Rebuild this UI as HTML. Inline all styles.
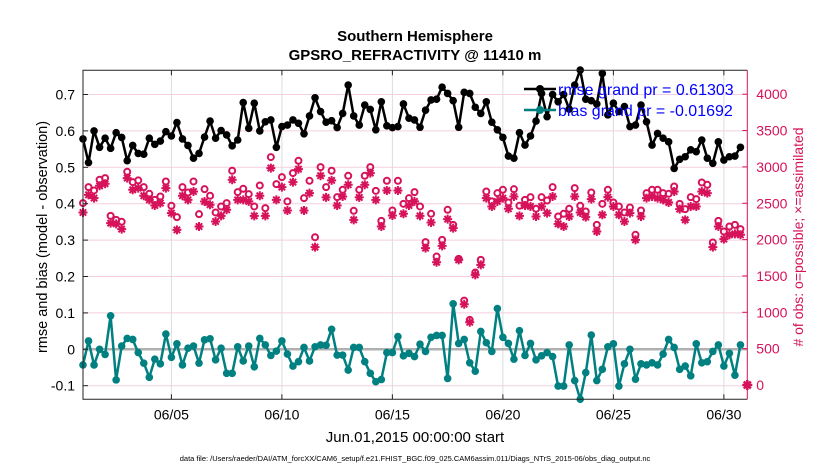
<!DOCTYPE html>
<html><head><meta charset="utf-8"><style>
body{margin:0;background:#fff;}
svg{display:block;font-family:"Liberation Sans",sans-serif;}
</style></head><body>
<svg id="chart" width="830" height="470" viewBox="0 0 830 470" xmlns="http://www.w3.org/2000/svg">
<rect x="0" y="0" width="830" height="470" fill="#fff"/>
<text x="415" y="41" text-anchor="middle" font-size="15" font-weight="bold">Southern Hemisphere</text>
<text x="415" y="60" text-anchor="middle" font-size="15" font-weight="bold">GPSRO_REFRACTIVITY @ 11410 m</text>
<g id="grid"></g>
<g id="marks"></g>
<g id="axes"></g>
<text transform="translate(47,237) rotate(-90)" text-anchor="middle" font-size="14.5">rmse and bias (model - observation)</text>
<text transform="translate(803,237) rotate(-90)" text-anchor="middle" font-size="14" fill="#d6125a"># of obs: o=possible; ×=assimilated</text>
<text x="415" y="442" text-anchor="middle" font-size="15">Jun.01,2015 00:00:00 start</text>
<text x="415" y="461" text-anchor="middle" font-size="7.5">data file: /Users/raeder/DAI/ATM_forcXX/CAM6_setup/f.e21.FHIST_BGC.f09_025.CAM6assim.011/Diags_NTrS_2015-06/obs_diag_output.nc</text>
<g id="legend"></g>
</svg>
<script>
const rmse=[0.578,0.513,0.600,0.555,0.580,0.552,0.595,0.582,0.518,0.560,0.538,0.536,0.580,0.563,0.572,0.598,0.586,0.623,0.578,0.560,0.525,0.538,0.583,0.627,0.580,0.601,0.589,0.559,0.575,0.678,
0.607,0.676,0.600,0.625,0.630,0.555,0.612,0.616,0.630,0.621,0.592,0.641,0.691,0.653,0.624,0.628,0.609,0.648,0.726,0.641,0.616,0.671,0.659,0.603,0.680,0.614,0.609,0.612,0.674,0.635,
0.630,0.610,0.657,0.685,0.687,0.720,0.703,0.683,0.610,0.706,0.703,0.665,0.648,0.680,0.624,0.603,0.582,0.531,0.525,0.595,0.561,0.586,0.627,0.703,0.639,0.700,0.680,0.700,0.660,0.726,
0.767,0.687,0.683,0.674,0.758,0.644,0.676,0.653,0.667,0.612,0.616,0.671,0.625,0.561,0.593,0.580,0.570,0.497,0.522,0.529,0.548,0.543,0.575,0.525,0.511,0.570,0.520,0.529,0.531,0.555];
const bias=[-0.043,0.023,-0.043,0,-0.014,0.092,-0.084,0.009,0.030,0.027,-0.009,-0.038,-0.077,-0.027,-0.040,0.042,-0.022,0.015,-0.043,0.003,0.009,-0.038,0.026,0.029,-0.029,0.003,-0.066,-0.066,0.007,-0.032,
0.009,-0.048,0.030,0.012,-0.017,-0.005,0.023,-0.013,-0.046,-0.034,0.005,-0.032,0.007,0.012,0.011,0.055,-0.016,-0.016,-0.057,0.005,0.005,-0.034,-0.066,-0.089,-0.083,-0.009,-0.009,0.035,-0.018,-0.011,
-0.020,0.014,-0.006,0.033,0.038,0.038,-0.080,0.125,0.016,0.027,-0.037,-0.060,0.049,0.018,-0.006,0.112,0.033,0.016,-0.027,0.051,-0.017,0.016,-0.029,-0.018,-0.009,-0.020,-0.101,-0.101,0.012,-0.086,
-0.137,-0.064,0.039,-0.086,-0.055,0.007,0.015,-0.101,-0.040,0,-0.082,-0.040,-0.043,-0.037,-0.043,-0.013,0.027,0.005,-0.055,-0.046,-0.073,0.015,-0.037,-0.034,-0.006,0.012,-0.046,-0.011,-0.071,0.012];
const possible=[2502,2722,2676,2823,2846,2327,2272,2245,2933,2791,2814,2722,2630,2547,2593,2800,2465,2309,2722,2648,2800,2350,2694,2603,2373,2456,2502,2947,2653,2699,
2625,2456,2745,2433,3135,2763,2860,2525,2915,3084,2570,2809,2033,2997,2722,2947,2584,2685,2878,2396,2685,2878,2997,2671,2258,2809,2401,2809,2492,2570,
2653,2456,1966,2355,1767,1997,2410,2203,1735,1161,895,1547,1721,2662,2525,2639,2685,2511,2694,2465,2547,2584,2424,2584,2538,2722,2318,2355,2424,2708,
2465,2387,2648,2203,2492,2685,2511,2456,2373,2442,2066,2401,2639,2685,2685,2639,2630,2731,2492,2419,2584,2557,2786,2754,1960,2258,2111,2180,2203,2144];
const assimilated=[2373,2616,2570,2740,2768,2226,2217,2144,2846,2685,2708,2603,2547,2469,2502,2708,2364,2134,2603,2547,2662,2180,2524,2479,2249,2327,2410,2823,2547,2547,
2525,2327,2603,2327,2984,2547,2722,2401,2791,2970,2401,2639,1896,2878,2580,2814,2469,2593,2754,2272,2580,2754,2915,2547,2180,2676,2332,2676,2355,2469,
2525,2327,1883,2235,1689,1914,2281,2157,1721,1111,863,1515,1652,2570,2456,2524,2570,2424,2593,2327,2469,2456,2318,2456,2364,2593,2217,2180,2318,2593,
2373,2309,2557,2111,2341,2584,2456,2341,2249,2364,1997,2318,2570,2593,2570,2547,2511,2662,2419,2272,2456,2456,2662,2639,1896,2180,2006,2066,2079,2066];
const leftTicks=[0.7,0.6,0.5,0.4,0.3,0.2,0.1,0,-0.1];
const leftTickLabels=["0.7","0.6","0.5","0.4","0.3","0.2","0.1","0","-0.1"];
const rightTicks=[4000,3500,3000,2500,2000,1500,1000,500,0];
const xTickDays=[5,10,15,20,25,30];
const xTickLabels=["06/05","06/10","06/15","06/20","06/25","06/30"];

const NS="http://www.w3.org/2000/svg";
const PL=83,PR=747.3,PT=70.3,PB=399.3;
const DMIN=1.0,DMAX=31.06;
const RED='#d6125a';
const xS=d=>PL+(d-DMIN)/(DMAX-DMIN)*(PR-PL);
const yL=v=>349.3-v*364;
const yR=c=>385-c*0.0727;
const dayOf=i=>1+i*0.25;
function mk(tag,attrs,parent){const e=document.createElementNS(NS,tag);for(const k in attrs)e.setAttribute(k,attrs[k]);parent.appendChild(e);return e;}
function starPath(x,y,r){const a=r*0.707;return `M${x-r},${y}H${x+r}M${x},${y-r}V${y+r}M${x-a},${y-a}L${x+a},${y+a}M${x-a},${y+a}L${x+a},${y-a}`;}
const grid=document.getElementById('grid'),marks=document.getElementById('marks'),axes=document.getElementById('axes'),legend=document.getElementById('legend');

leftTicks.forEach((v,k)=>{
  const y=yL(v);
  const g=mk('line',{x1:PL,x2:PR,y1:y,y2:y,stroke:'#f5cfe0','stroke-width':1},grid);
  
  
  const t=mk('text',{x:PL-8,y:y+5,'text-anchor':'end','font-size':14},axes);
  t.textContent=leftTickLabels[k];
  
  
  mk('line',{x1:PL,x2:PL+5,y1:y,y2:y,stroke:'#222'},axes);
});
rightTicks.forEach(c=>{
  const y=yR(c);
  const t=mk('text',{x:PR+9,y:y+5,'font-size':14,fill:RED},axes);
  t.textContent=String(c);
  
  
  mk('line',{x1:PR-5,x2:PR,y1:y,y2:y,stroke:RED},axes);
});
xTickDays.forEach((d,k)=>{
  const x=xS(d);
  const g=mk('line',{x1:x,x2:x,y1:PT,y2:PB,stroke:'#dcdcdc','stroke-width':1},grid);
  
  
  mk('line',{x1:x,x2:x,y1:PB,y2:PB-5,stroke:'#222'},axes);
  mk('line',{x1:x,x2:x,y1:PT,y2:PT+5,stroke:'#222'},axes);
  const t=mk('text',{x:x,y:PB+20,'text-anchor':'middle','font-size':14},axes);
  t.textContent=xTickLabels[k];
  
  
});
const zl=mk('line',{x1:PL,x2:PR,y1:yL(0),y2:yL(0),stroke:'#b0b0b0','stroke-width':2.5},grid);


const frame=mk('path',{d:`M${PR},${PT}H${PL}V${PB}H${PR}`,fill:'none',stroke:'#222','stroke-width':1},axes);


const rax=mk('line',{x1:PR,x2:PR,y1:PT,y2:PB,stroke:RED,'stroke-width':1},axes);



possible.forEach((c,i)=>{
  const o=mk('circle',{cx:xS(dayOf(i)),cy:yR(c),r:3,fill:'none',stroke:RED,'stroke-width':2},marks);
  
  
});
assimilated.forEach((c,i)=>{
  const s=mk('path',{d:starPath(xS(dayOf(i)),yR(c),4.5),stroke:RED,'stroke-width':2,fill:'none'},marks);
  
  
});
const endm=mk('path',{d:starPath(PR,yR(0),5),stroke:RED,'stroke-width':2.5,fill:'none'},marks);


const endc=mk('circle',{cx:PR,cy:yR(0),r:3,fill:RED},marks);



function series(vals,color,name){
  const pts=vals.map((v,i)=>xS(dayOf(i)).toFixed(1)+','+yL(v).toFixed(1)).join(' ');
  const pl=mk('polyline',{points:pts,fill:'none',stroke:color,'stroke-width':2.5,'stroke-linejoin':'round'},marks);
  
  
  vals.forEach((v,i)=>{
    const c=mk('circle',{cx:xS(dayOf(i)),cy:yL(v),r:3.8,fill:color},marks);
    
    
  });
}
series(rmse,'#000','rmse');
series(bias,'#008080','bias');

// legend drawn last (on top)
[['#000',89,'rmse grand pr = 0.61303','legend-rmse'],['#008080',110,'bias grand pr = -0.01692','legend-bias']].forEach(e=>{
  const l=mk('line',{x1:524,x2:556,y1:e[1],y2:e[1],stroke:e[0],'stroke-width':2.5},legend);
  
  
  const c=mk('circle',{cx:540,cy:e[1],r:4,fill:e[0]},legend);
  
  
  const t=mk('text',{x:558,y:e[1]+6,'font-size':16,fill:'#0000ff'},legend);
  t.textContent=e[2];
  
  
});
</script>
</body></html>
